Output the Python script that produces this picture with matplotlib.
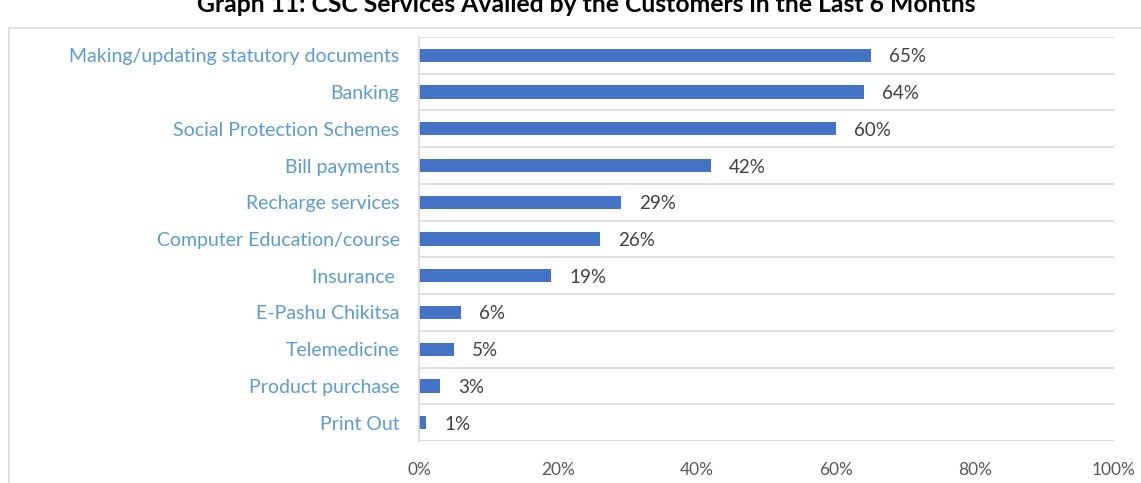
import matplotlib
matplotlib.use("Agg")
import matplotlib.pyplot as plt
from matplotlib.patches import Rectangle
from matplotlib.ticker import FixedLocator, PercentFormatter

plt.rcParams["font.family"] = ["Lato", "DejaVu Sans"]

services = [
    "Making/updating statutory documents",
    "Banking",
    "Social Protection Schemes",
    "Bill payments",
    "Recharge services",
    "Computer Education/course",
    "Insurance ",
    "E-Pashu Chikitsa",
    "Telemedicine",
    "Product purchase",
    "Print Out",
]
share_pct = [65, 64, 60, 42, 29, 26, 19, 6, 5, 3, 1]
x_ticks = [0, 20, 40, 60, 80, 100]

title = "Graph 11: CSC Services Availed by the Customers in the Last 6 Months"

W, H = 1141, 483
fig = plt.figure(figsize=(W / 100, H / 100), dpi=100)
fig.patch.set_facecolor("white")

# chart frame (runs off the right and bottom edges)
fig.patches.append(Rectangle((9 / W, -0.2), 1.5, (H - 28) / H + 0.2,
                             transform=fig.transFigure, fill=False,
                             edgecolor="#D9D9D9", linewidth=1.2))

fig.text(586 / W, 1 - 5 / H, title, ha="center", va="center",
         fontsize=17.8, fontweight="bold", color="black")

ax = fig.add_axes([419 / W, 1 - 441 / H, (1114 - 419) / W, (441 - 37) / H])
pos = list(range(len(services)))
ax.barh(pos, share_pct, height=0.36, color="#4472C4")
ax.set_ylim(len(services) - 0.5, -0.5)
ax.set_xlim(0, 100)

for y, v in zip(pos, share_pct):
    ax.text(v + 2.6, y + 0.04, f"{v}%", va="center", ha="left",
            fontsize=13.5, color="#404040")

ax.set_yticks(pos)
ax.set_yticklabels(services, fontsize=14, color="#5B9BD5")
ax.yaxis.set_minor_locator(FixedLocator([p - 0.5 for p in pos] + [len(pos) - 0.5]))
ax.grid(True, axis="y", which="minor", color="#D9D9D9", linewidth=1.2)
ax.tick_params(axis="y", which="both", length=0, pad=14)

ax.set_xticks(x_ticks)
ax.xaxis.set_major_formatter(PercentFormatter(decimals=0))
ax.tick_params(axis="x", length=0, pad=15, labelsize=12.5, labelcolor="#595959")

for side in ("top", "right", "bottom"):
    ax.spines[side].set_visible(False)
ax.spines["left"].set_color("#D9D9D9")
ax.spines["left"].set_linewidth(1.2)

fig.savefig("out.png", dpi=100)
